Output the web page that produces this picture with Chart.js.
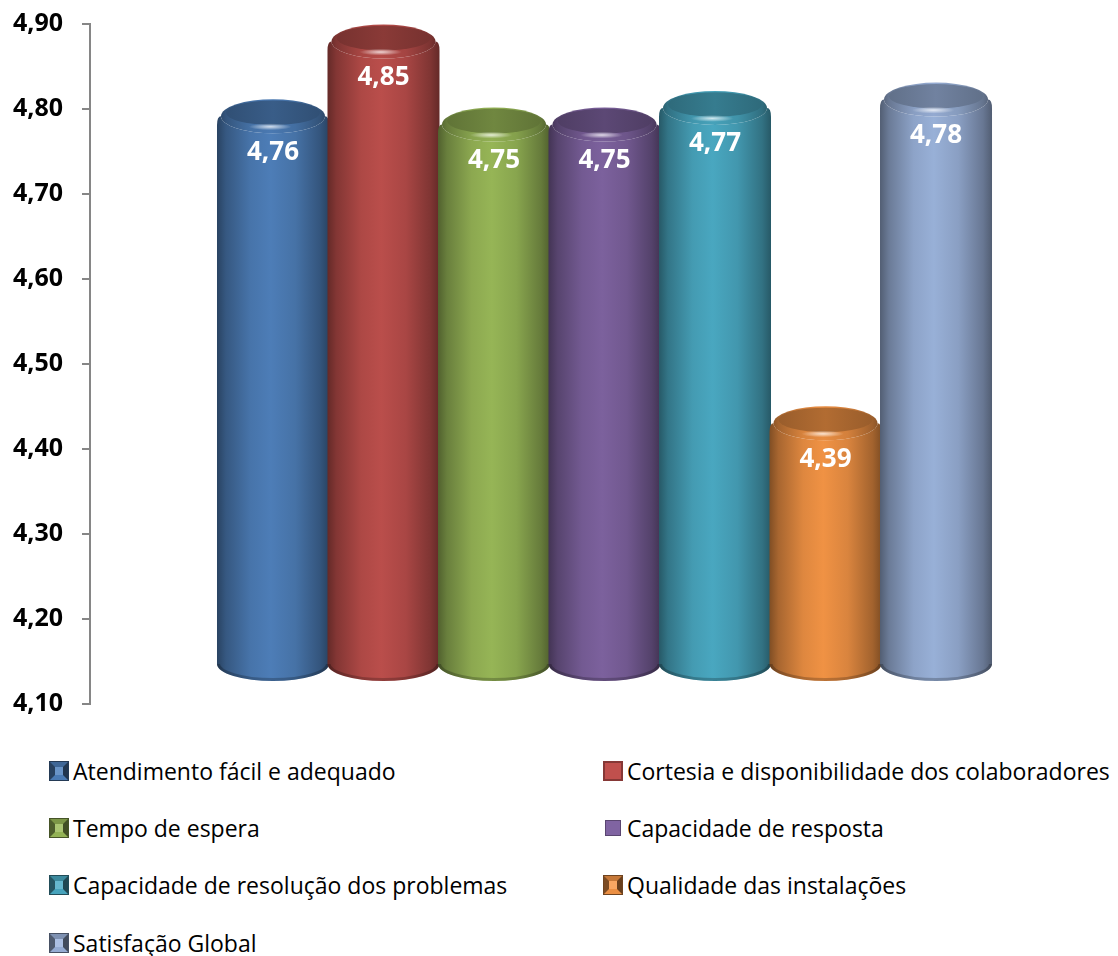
<!DOCTYPE html>
<html lang="pt">
<head>
<meta charset="utf-8">
<title>Satisfação dos utentes</title>
<script src="https://cdn.jsdelivr.net/npm/chart.js@4.4.1/dist/chart.umd.min.js"></script>
<style>
  html, body { margin: 0; padding: 0; background: #fff; }
  #wrap { position: relative; width: 1118px; height: 956px; overflow: hidden; }
  #chartBox { position: absolute; left: 0; top: 0; width: 1118px; height: 740px; }
  #legend {
    position: absolute; left: 49px; top: 742px;
    display: grid; grid-template-columns: 554px auto; grid-auto-rows: 57.4px;
    font-family: 'Open Sans', sans-serif; font-size: 23px; color: #000;
  }
  .item { display: flex; align-items: center; white-space: nowrap; }
  .mark { box-sizing: border-box; width: 20px; height: 20px; margin-right: 4px; flex: none; }
</style>
</head>
<body>
<div id="wrap">
  <div id="chartBox"><canvas id="chart"></canvas></div>
  <div id="legend"></div>
</div>
<script>
// Series shown as 3D cylinders, one per evaluated aspect
const seriesNames = [
  'Atendimento fácil e adequado',
  'Cortesia e disponibilidade dos colaboradores',
  'Tempo de espera',
  'Capacidade de resposta',
  'Capacidade de resolução dos problemas',
  'Qualidade das instalações',
  'Satisfação Global'
];
const scores = [4.76, 4.85, 4.75, 4.75, 4.77, 4.39, 4.78];
const seriesColors = ['#4F81BD', '#C0504D', '#9BBB59', '#8064A2', '#4BACC6', '#F79646', '#9DB5DE'];
const legendMarks = ['bevel', 'flat', 'bevel', 'small', 'bevel', 'bevel', 'bevel'];

// Value axis
const AXIS_MIN = 4.10;
const AXIS_MAX = 4.90;
const AXIS_STEP = 0.10;

// The cylinders stand on a receding floor, so they are plotted on a hidden
// value axis whose range is slightly offset from the visible one.
const BAR_AXIS_MIN = 4.0518;
const BAR_AXIS_MAX = 4.8711;

const fmt = v => v.toFixed(2).replace('.', ',');

function rgb(hex) {
  const n = parseInt(hex.slice(1), 16);
  return [(n >> 16) & 255, (n >> 8) & 255, n & 255];
}
function shade(hex, f, a) {
  const c = rgb(hex).map(v => f <= 1 ? v * f : v + (255 - v) * (f - 1));
  const s = c.map(v => Math.max(0, Math.min(255, Math.round(v))));
  return a === undefined ? `rgb(${s[0]},${s[1]},${s[2]})` : `rgba(${s[0]},${s[1]},${s[2]},${a})`;
}

function sideGradient(ctx, cx, rx, color, k) {
  const g = ctx.createLinearGradient(cx - rx, 0, cx + rx, 0);
  g.addColorStop(0.00, shade(color, 0.52 * k));
  g.addColorStop(0.08, shade(color, 0.68 * k));
  g.addColorStop(0.30, shade(color, 0.90 * k));
  g.addColorStop(0.48, shade(color, 0.97 * k));
  g.addColorStop(0.70, shade(color, 0.88 * k));
  g.addColorStop(0.92, shade(color, 0.66 * k));
  g.addColorStop(1.00, shade(color, 0.52 * k));
  return g;
}

function drawCylinder(ctx, cx, w, yTop, yBot, color) {
  const rx = w / 2;
  const ry = 17;
  const bevel = 4;      // inset of the rounded top edge
  const shoulder = 9;   // height of the rounded shoulder
  ctx.save();

  // body with rounded shoulders and bottom cap
  ctx.beginPath();
  ctx.moveTo(cx - rx, yTop + shoulder);
  ctx.lineTo(cx - rx, yBot);
  ctx.ellipse(cx, yBot, rx, ry, 0, Math.PI, 0, true);
  ctx.lineTo(cx + rx, yTop + shoulder);
  ctx.quadraticCurveTo(cx + rx, yTop, cx + rx - bevel, yTop);
  ctx.ellipse(cx, yTop, rx - bevel, ry, 0, 0, Math.PI, false);
  ctx.quadraticCurveTo(cx - rx, yTop, cx - rx, yTop + shoulder);
  ctx.closePath();
  ctx.fillStyle = sideGradient(ctx, cx, rx, color, 1);
  ctx.fill();

  // darker rim along the bottom edge
  ctx.save();
  ctx.clip();
  ctx.beginPath();
  ctx.ellipse(cx, yBot, rx, ry, 0, Math.PI, 0, true);
  ctx.lineWidth = 6;
  ctx.strokeStyle = 'rgba(0,0,0,0.22)';
  ctx.stroke();
  ctx.restore();

  // top cap: rounded rim
  ctx.beginPath();
  ctx.ellipse(cx, yTop, rx - bevel, ry, 0, 0, Math.PI * 2);
  ctx.fillStyle = sideGradient(ctx, cx, rx, color, 0.97);
  ctx.fill();

  // top face, slightly recessed and darker
  ctx.beginPath();
  ctx.ellipse(cx, yTop - ry * 0.2, rx * 0.84, ry * 0.72, 0, 0, Math.PI * 2);
  const tg = ctx.createLinearGradient(cx - rx, 0, cx + rx, 0);
  tg.addColorStop(0, shade(color, 0.6));
  tg.addColorStop(0.5, shade(color, 0.72));
  tg.addColorStop(1, shade(color, 0.6));
  ctx.fillStyle = tg;
  ctx.fill();

  // specular glint on the front of the rim
  ctx.save();
  ctx.translate(cx - rx * 0.05, yTop + ry * 0.62);
  ctx.scale(1, 0.16);
  const hg = ctx.createRadialGradient(0, 0, 0, 0, 0, rx * 0.38);
  hg.addColorStop(0, 'rgba(255,255,255,0.75)');
  hg.addColorStop(1, 'rgba(255,255,255,0)');
  ctx.fillStyle = hg;
  ctx.beginPath();
  ctx.arc(0, 0, rx * 0.38, 0, Math.PI * 2);
  ctx.fill();
  ctx.restore();

  ctx.restore();
}

const cylinderPlugin = {
  id: 'cylinders',
  beforeDatasetDraw() { return false; },
  afterDatasetsDraw(chart) {
    const ctx = chart.ctx;
    chart.data.datasets.forEach((ds, i) => {
      const meta = chart.getDatasetMeta(i);
      meta.data.forEach((bar, j) => {
        const p = bar.getProps(['x', 'y', 'base', 'width'], true);
        drawCylinder(ctx, p.x, p.width, p.y, p.base, ds.backgroundColor);
        ctx.save();
        ctx.fillStyle = '#fff';
        ctx.font = 'bold 26px "Open Sans"';
        ctx.textAlign = 'center';
        ctx.textBaseline = 'middle';
        ctx.fillText(fmt(ds.data[j].y), p.x, p.y + 36);
        ctx.restore();
      });
    });
  }
};

const chart = new Chart(document.getElementById('chart'), {
  type: 'bar',
  data: {
    datasets: seriesNames.map((name, i) => ({
      label: name,
      data: [{ x: i, y: scores[i] }],
      backgroundColor: seriesColors[i],
      base: AXIS_MIN,
      xAxisID: 'x',
      yAxisID: 'yBar',
      grouped: false,
      barThickness: 112
    }))
  },
  options: {
    responsive: true,
    maintainAspectRatio: false,
    animation: false,
    layout: { padding: { left: 0, top: 24, right: 18, bottom: 36 } },
    plugins: { legend: { display: false }, tooltip: { enabled: false } },
    scales: {
      x: { type: 'linear', display: false, min: -1.656, max: 7.484, offset: false },
      y: {
        position: 'left',
        min: AXIS_MIN,
        max: AXIS_MAX,
        ticks: {
          stepSize: AXIS_STEP,
          padding: 19,
          color: '#000',
          font: { family: 'Open Sans', size: 25, weight: 'bold' },
          callback: v => fmt(v)
        },
        grid: { drawOnChartArea: false, tickLength: 8, color: '#868686', lineWidth: 2 },
        border: { color: '#868686', width: 2 },
        afterFit: s => { s.width = 90; s.paddingTop = 0; s.paddingBottom = 0; }
      },
      yBar: { type: 'linear', display: false, min: BAR_AXIS_MIN, max: BAR_AXIS_MAX }
    }
  },
  plugins: [cylinderPlugin]
});

// Legend in two columns, built from the chart's datasets
const legendEl = document.getElementById('legend');
chart.data.datasets.forEach((ds, i) => {
  const item = document.createElement('div');
  item.className = 'item';
  const mark = document.createElement('span');
  mark.className = 'mark';
  const c = ds.backgroundColor;
  if (legendMarks[i] === 'bevel') {
    mark.style.border = '6px solid';
    mark.style.borderTopColor = shade(c, 0.8);
    mark.style.borderLeftColor = shade(c, 0.5);
    mark.style.borderRightColor = shade(c, 0.42);
    mark.style.borderBottomColor = shade(c, 0.95);
    mark.style.background = shade(c, 1.15);
    mark.style.outline = `1px solid ${shade(c, 0.45)}`;
    mark.style.outlineOffset = '-1px';
  } else if (legendMarks[i] === 'flat') {
    mark.style.background = c;
    mark.style.border = `2px solid ${shade(c, 0.7)}`;
  } else {
    mark.style.width = '16px';
    mark.style.height = '16px';
    mark.style.margin = '0 6px 0 2px';
    mark.style.background = c;
    mark.style.border = `1px solid ${shade(c, 0.7)}`;
  }
  item.appendChild(mark);
  item.appendChild(document.createTextNode(ds.label));
  legendEl.appendChild(item);
});
</script>
</body>
</html>
